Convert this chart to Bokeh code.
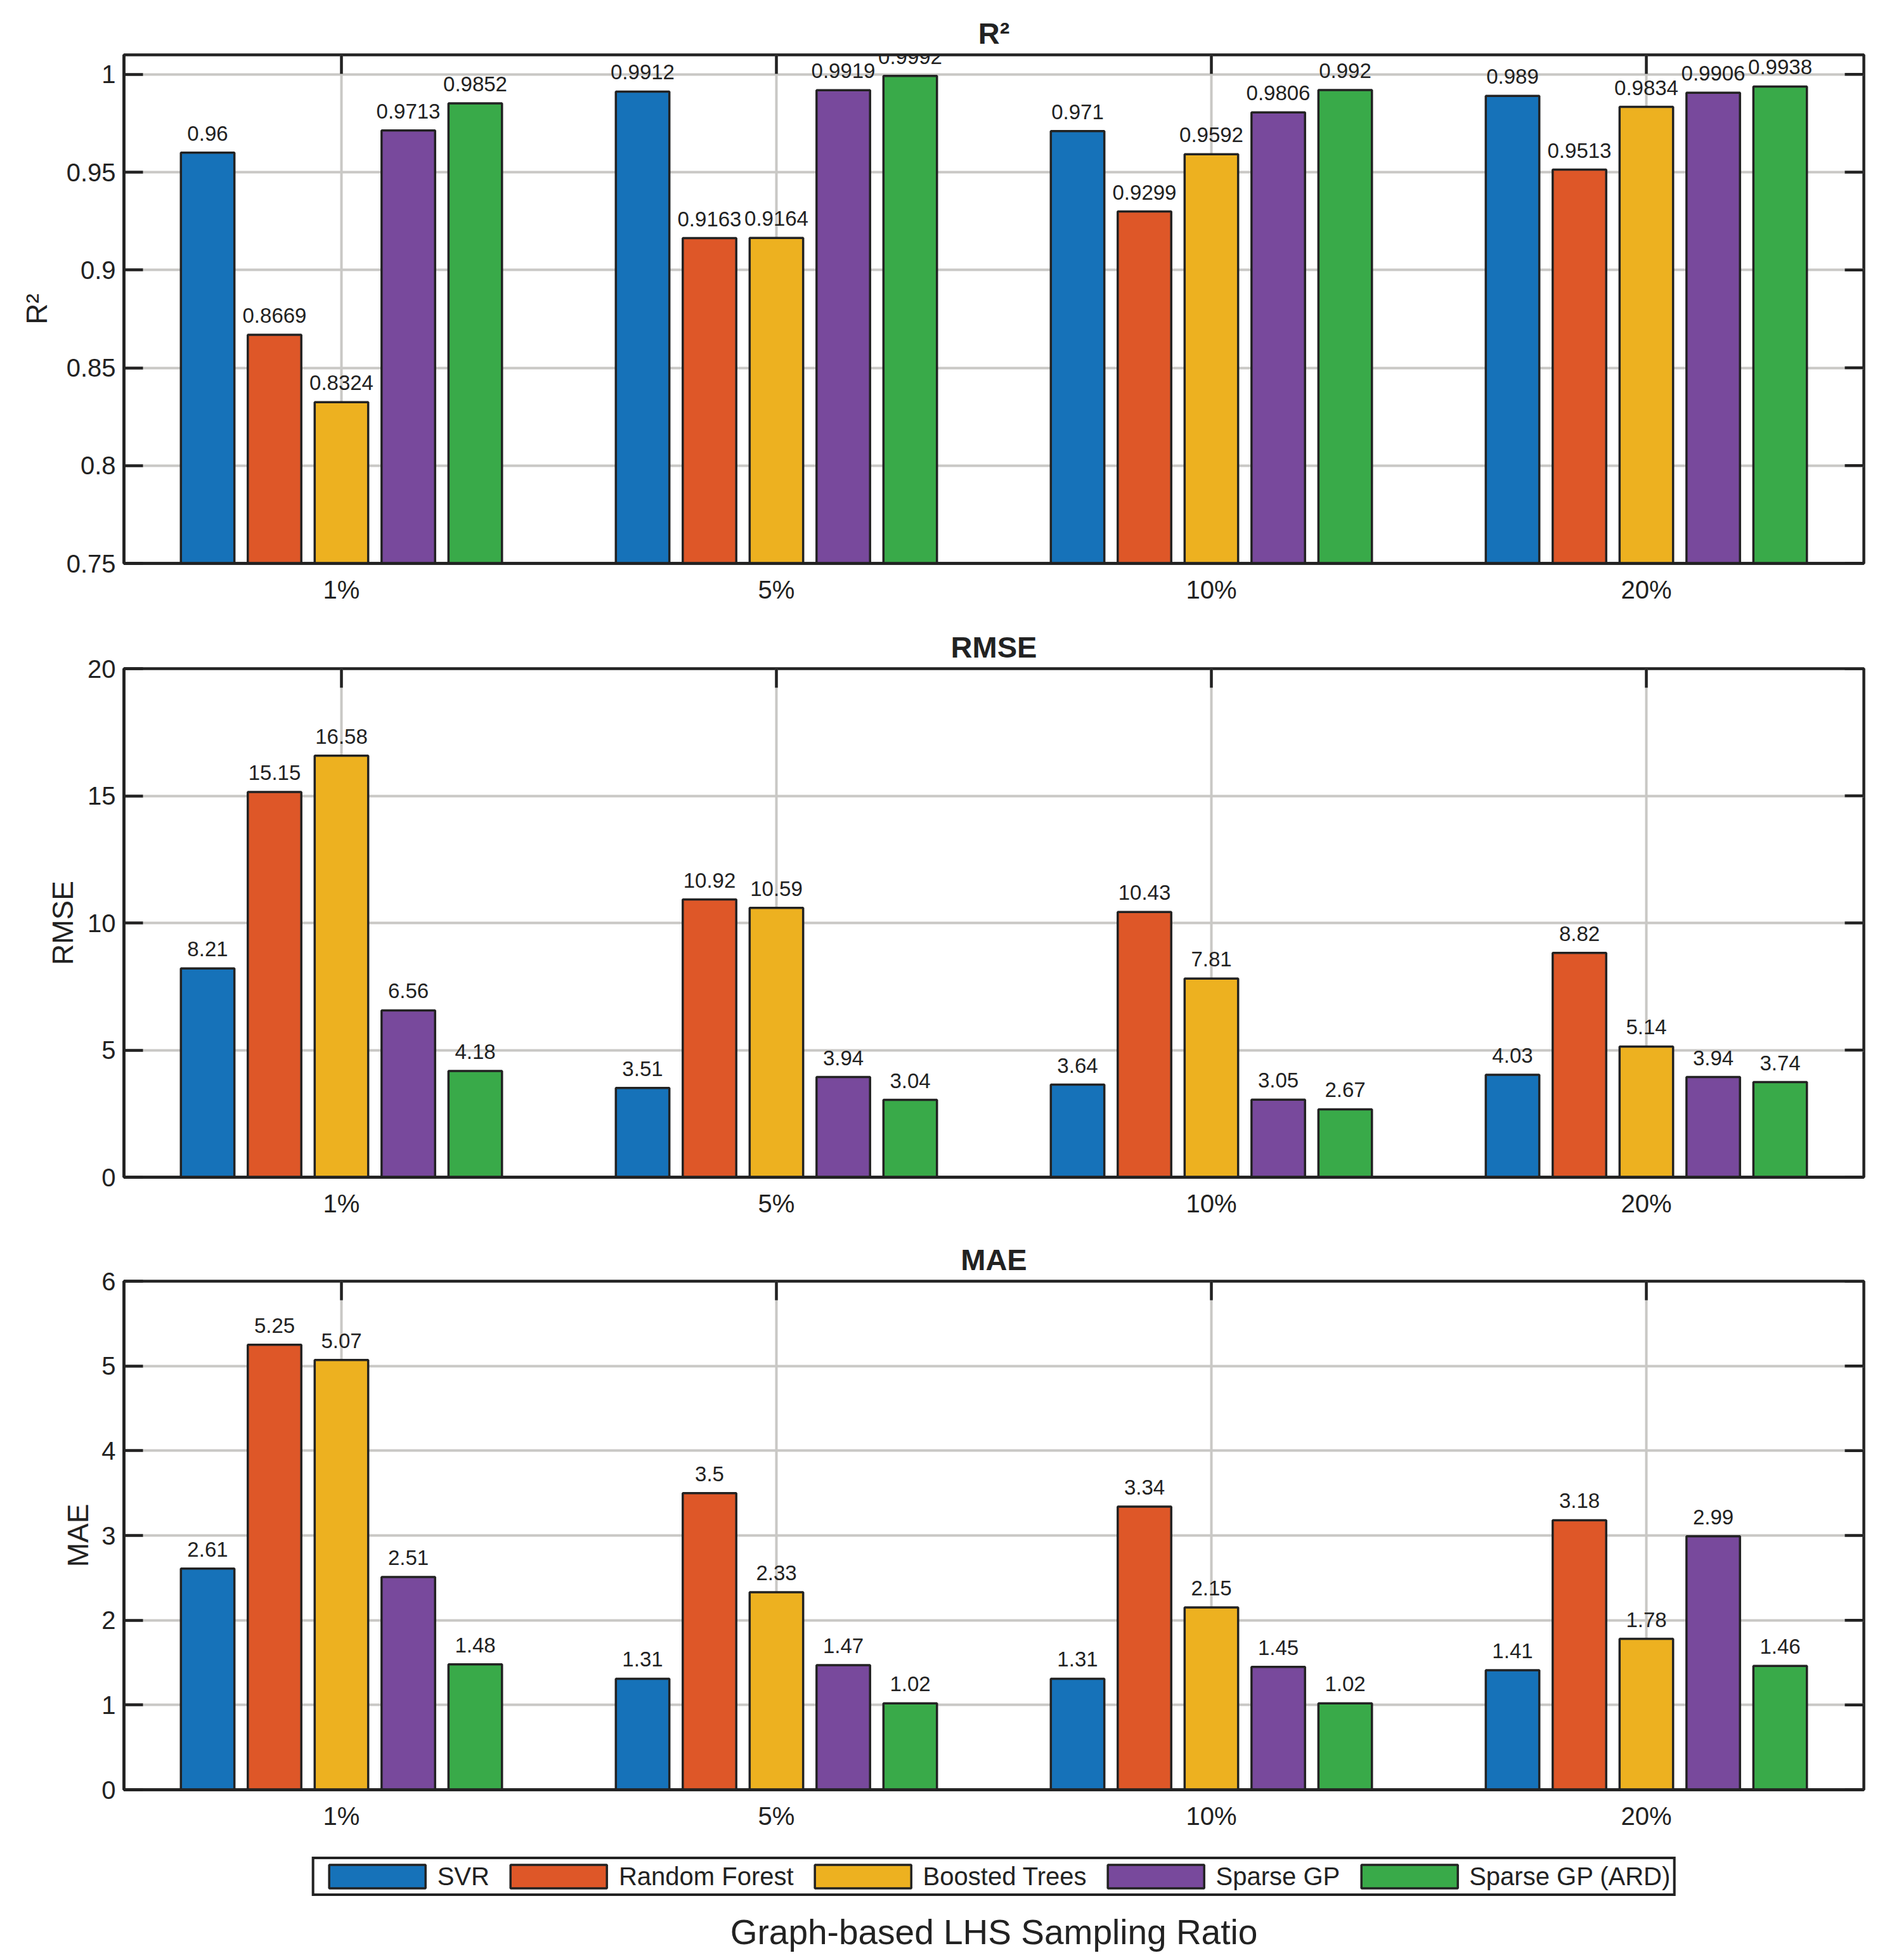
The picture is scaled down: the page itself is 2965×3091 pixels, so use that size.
import math
from bokeh.plotting import figure
from bokeh.models import (ColumnDataSource, FixedTicker, LabelSet, LinearAxis,
                          Legend, LegendItem, Range1d)
from bokeh.core.properties import value
from bokeh.transform import dodge
from bokeh.layouts import column
from bokeh.embed import file_html
from bokeh.resources import INLINE

# ---------------- data ----------------
CATEGORIES = ["1%", "5%", "10%", "20%"]
X_POS = [1, 2, 3, 4]
MODELS = ["SVR", "Random Forest", "Boosted Trees", "Sparse GP", "Sparse GP (ARD)"]
COLORS = ["#1672B9", "#DE5728", "#EDB120", "#78499C", "#39AA49"]

R2_SVR = [0.96, 0.9912, 0.971, 0.989]
R2_RF = [0.8669, 0.9163, 0.9299, 0.9513]
R2_BT = [0.8324, 0.9164, 0.9592, 0.9834]
R2_SGP = [0.9713, 0.9919, 0.9806, 0.9906]
R2_ARD = [0.9852, 0.9992, 0.992, 0.9938]

RMSE_SVR = [8.21, 3.51, 3.64, 4.03]
RMSE_RF = [15.15, 10.92, 10.43, 8.82]
RMSE_BT = [16.58, 10.59, 7.81, 5.14]
RMSE_SGP = [6.56, 3.94, 3.05, 3.94]
RMSE_ARD = [4.18, 3.04, 2.67, 3.74]

MAE_SVR = [2.61, 1.31, 1.31, 1.41]
MAE_RF = [5.25, 3.5, 3.34, 3.18]
MAE_BT = [5.07, 2.33, 2.15, 1.78]
MAE_SGP = [2.51, 1.47, 1.45, 2.99]
MAE_ARD = [1.48, 1.02, 1.02, 1.46]

R2_TICKS = [0.75, 0.8, 0.85, 0.9, 0.95, 1.0]
R2_TICK_LABELS = ["0.75", "0.8", "0.85", "0.9", "0.95", "1"]
RMSE_TICKS = [0, 5, 10, 15, 20]
RMSE_TICK_LABELS = ["0", "5", "10", "15", "20"]
MAE_TICKS = [0, 1, 2, 3, 4, 5, 6]
MAE_TICK_LABELS = ["0", "1", "2", "3", "4", "5", "6"]

XLABEL = "Graph-based LHS Sampling Ratio"

# ---------------- style ----------------
FONT = "Liberation Sans"
INK = "#222222"
GRID = "#C9C8C5"
BAR_STEP = 0.1538
BAR_W = 0.123
X0, X1 = 0.5, 4.5
FRAME_W = 2744
FRAME_H = 802


def style_axis(ax, tick_in):
    ax.axis_line_color = INK
    ax.axis_line_width = 4.5
    ax.major_tick_line_color = INK
    ax.major_tick_line_width = 4.5
    ax.major_tick_in = tick_in
    ax.major_tick_out = 0
    ax.minor_tick_line_color = None
    ax.major_label_text_font = FONT
    ax.major_label_text_color = INK
    ax.major_label_text_font_size = "40px"
    ax.major_label_standoff = 13


def make_panel(title, ylabel, series, y0, y1, yticks, yticklabels,
               top_border, bottom_border, label_standoff):
    p = figure(frame_width=FRAME_W, frame_height=FRAME_H,
               x_range=Range1d(X0, X1), y_range=Range1d(y0, y1),
               output_backend="svg", toolbar_location=None,
               min_border_left=195, min_border_right=10,
               min_border_top=top_border, min_border_bottom=bottom_border,
               background_fill_color="white", border_fill_color="white",
               outline_line_color=INK, outline_line_width=4.5)
    p.title.text = title
    p.title.align = "center"
    p.title.text_font = FONT
    p.title.text_font_size = "47px"
    p.title.text_font_style = "bold"
    p.title.text_color = INK
    p.title.standoff = 16

    xa = p.xaxis[0]
    xa.ticker = FixedTicker(ticks=X_POS)
    xa.major_label_overrides = dict(zip(X_POS, CATEGORIES))
    style_axis(xa, 0)
    xa.major_label_standoff = 19
    ya = p.yaxis[0]
    ya.ticker = FixedTicker(ticks=yticks)
    ya.major_label_overrides = dict(zip(yticks, yticklabels))
    style_axis(ya, 30)
    ya.axis_label = ylabel
    ya.axis_label_text_font = FONT
    ya.axis_label_text_font_size = "46px"
    ya.axis_label_text_font_style = "normal"
    ya.axis_label_text_color = INK
    ya.axis_label_standoff = label_standoff

    p.xgrid.ticker = FixedTicker(ticks=X_POS)
    p.ygrid.ticker = FixedTicker(ticks=yticks)
    for g in (p.xgrid[0], p.ygrid[0]):
        g.grid_line_color = GRID
        g.grid_line_width = 4

    # inward tick marks on the top and right edges of the box
    p.scatter(x=X_POS, y=[y1] * len(X_POS), marker="dash", angle=math.pi / 2,
              size=60, line_color=INK, line_width=4.5)
    p.scatter(x=[X1] * len(yticks), y=yticks, marker="dash",
              size=60, line_color=INK, line_width=4.5)

    for i, vals in enumerate(series):
        off = (i - 2) * BAR_STEP
        src = ColumnDataSource(dict(x=X_POS, top=vals,
                                    label=[f"{v:g}" for v in vals]))
        p.vbar(x=dodge("x", off), top="top", bottom=0, width=BAR_W,
               source=src, fill_color=COLORS[i], line_color=INK,
               line_width=3.5)
        labels = LabelSet(x=dodge("x", off), y="top", text="label", source=src,
                          text_font=value(FONT), text_font_size=value("33px"),
                          text_color=INK, text_align="center",
                          text_baseline="alphabetic", y_offset=19)
        p.add_layout(labels)
    return p


p1 = make_panel("R²", "R²", [R2_SVR, R2_RF, R2_BT, R2_SGP, R2_ARD],
                0.75, 1.01, R2_TICKS, R2_TICK_LABELS, 86, 83, 18)
p2 = make_panel("RMSE", "RMSE", [RMSE_SVR, RMSE_RF, RMSE_BT, RMSE_SGP, RMSE_ARD],
                0, 20, RMSE_TICKS, RMSE_TICK_LABELS, 83, 81, 10)
p3 = make_panel("MAE", "MAE", [MAE_SVR, MAE_RF, MAE_BT, MAE_SGP, MAE_ARD],
                0, 6, MAE_TICKS, MAE_TICK_LABELS, 83, 83, 8)

# ---------------- legend + common x label strip ----------------
LEG_H = 100
p4 = figure(frame_width=FRAME_W, frame_height=LEG_H,
            x_range=Range1d(0, 1), y_range=Range1d(0, LEG_H),
            x_axis_type=None, y_axis_type=None,
            output_backend="svg", toolbar_location=None,
            min_border_left=195, min_border_right=10,
            min_border_top=0, min_border_bottom=0,
            background_fill_color="white", border_fill_color="white",
            outline_line_color=None)
p4.grid.visible = False

# common x-axis title, carried by a tick-less axis under the legend strip
xl_axis = LinearAxis(ticker=FixedTicker(ticks=[]), axis_label=XLABEL)
xl_axis.axis_line_color = None
xl_axis.major_tick_line_color = None
xl_axis.minor_tick_line_color = None
xl_axis.major_tick_out = 0
xl_axis.major_tick_in = 0
xl_axis.major_label_standoff = 0
xl_axis.axis_label_standoff = 10
xl_axis.axis_label_text_font = FONT
xl_axis.axis_label_text_font_size = "55px"
xl_axis.axis_label_text_font_style = "normal"
xl_axis.axis_label_text_color = INK
p4.add_layout(xl_axis, "below")

items = []
for name, color in zip(MODELS, COLORS):
    # swatch sources for the legend, covered by the opaque legend box
    r = p4.vbar(x=[0.5], bottom=[45], top=[50], width=0.01,
                fill_color=color, line_color=INK, line_width=3.5)
    items.append(LegendItem(label=name, renderers=[r]))
legend = Legend(items=items, orientation="horizontal", location="top_center",
                glyph_width=190, glyph_height=46, label_height=46,
                label_standoff=0, spacing=14, padding=4, margin=23,
                border_line_color=INK, border_line_width=4,
                border_line_alpha=1.0,
                label_text_font=FONT, label_text_font_size="40px",
                label_text_color=INK, background_fill_color="white",
                background_fill_alpha=1.0)
p4.add_layout(legend)

layout = column(p1, p2, p3, p4, spacing=0)
open("out.html", "w").write(file_html(layout, INLINE, "chart"))
